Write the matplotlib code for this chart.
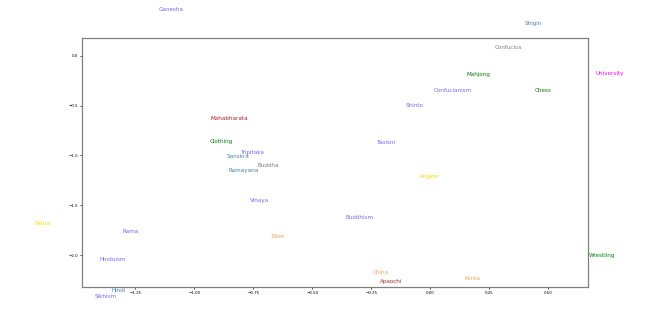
import matplotlib
matplotlib.use('Agg')
import matplotlib.pyplot as plt

# word embedding projection (2D)
words = ['Ganesha', 'Shigin', 'Confucius', 'Mahjong', 'University', 'Confucianism',
         'Chess', 'Shinto', 'Taoism', 'Mahabharata', 'Clothing', 'Tripitaka',
         'Sanskrit', 'Buddha', 'Ramayana', 'Angkor', 'Vinaya', 'Buddhism', 'Patna',
         'Rama', 'Tibet', 'Hinduism', 'Wrestling', 'China', 'Korea', 'Apaochi',
         'Hindi', 'Sikhism', 'Sumo']
xs = [-1.099, 0.436, 0.332, 0.206, 0.761, 0.093,
      0.478, -0.065, -0.185, -0.850, -0.884, -0.750,
      -0.814, -0.686, -0.791, -0.001, -0.723, -0.302, -1.644,
      -1.272, -0.647, -1.344, 0.726, -0.209, 0.178, -0.167,
      -1.319, -1.374, 0.223]
ys = [0.469, 0.328, 0.087, -0.187, -0.174, -0.351,
      -0.347, -0.502, -0.869, -0.625, -0.863, -0.970,
      -1.007, -1.097, -1.151, -1.215, -1.449, -1.623, -1.683,
      -1.763, -1.810, -2.044, -2.008, -2.172, -2.232, -2.262,
      -2.355, -2.416, -2.72]
colors = ['mediumslateblue', 'steelblue', 'gray', 'green', 'magenta', 'mediumslateblue',
          'green', 'mediumslateblue', 'mediumslateblue', 'firebrick', 'green', 'mediumslateblue',
          'steelblue', 'gray', 'steelblue', 'gold', 'mediumslateblue', 'mediumslateblue', 'gold',
          'mediumslateblue', 'sandybrown', 'mediumslateblue', 'green', 'sandybrown', 'sandybrown', 'firebrick',
          'steelblue', 'mediumslateblue', 'green']

fig = plt.figure(figsize=(6.54, 3.23), dpi=100)
ax = fig.add_axes([0.1254, 0.1115, 0.7736, 0.7705])

for w, x, y, c in zip(words, xs, ys, colors):
    ax.text(x, y, w, color=c, fontsize=4.1, ha='center', va='center', clip_on=False)

ax.set_xlim(-1.476, 0.668)
ax.set_ylim(-2.32, 0.178)
ax.set_xticks([-1.25, -1.0, -0.75, -0.5, -0.25, 0.0, 0.25, 0.5])
ax.set_yticks([0.0, -0.5, -1.0, -1.5, -2.0])
ax.tick_params(labelsize=2.9, length=1.5, width=0.5, pad=1.5)
for s in ax.spines.values():
    s.set_color('gray')
    s.set_linewidth(0.9)

fig.savefig('out.png', dpi=100)
